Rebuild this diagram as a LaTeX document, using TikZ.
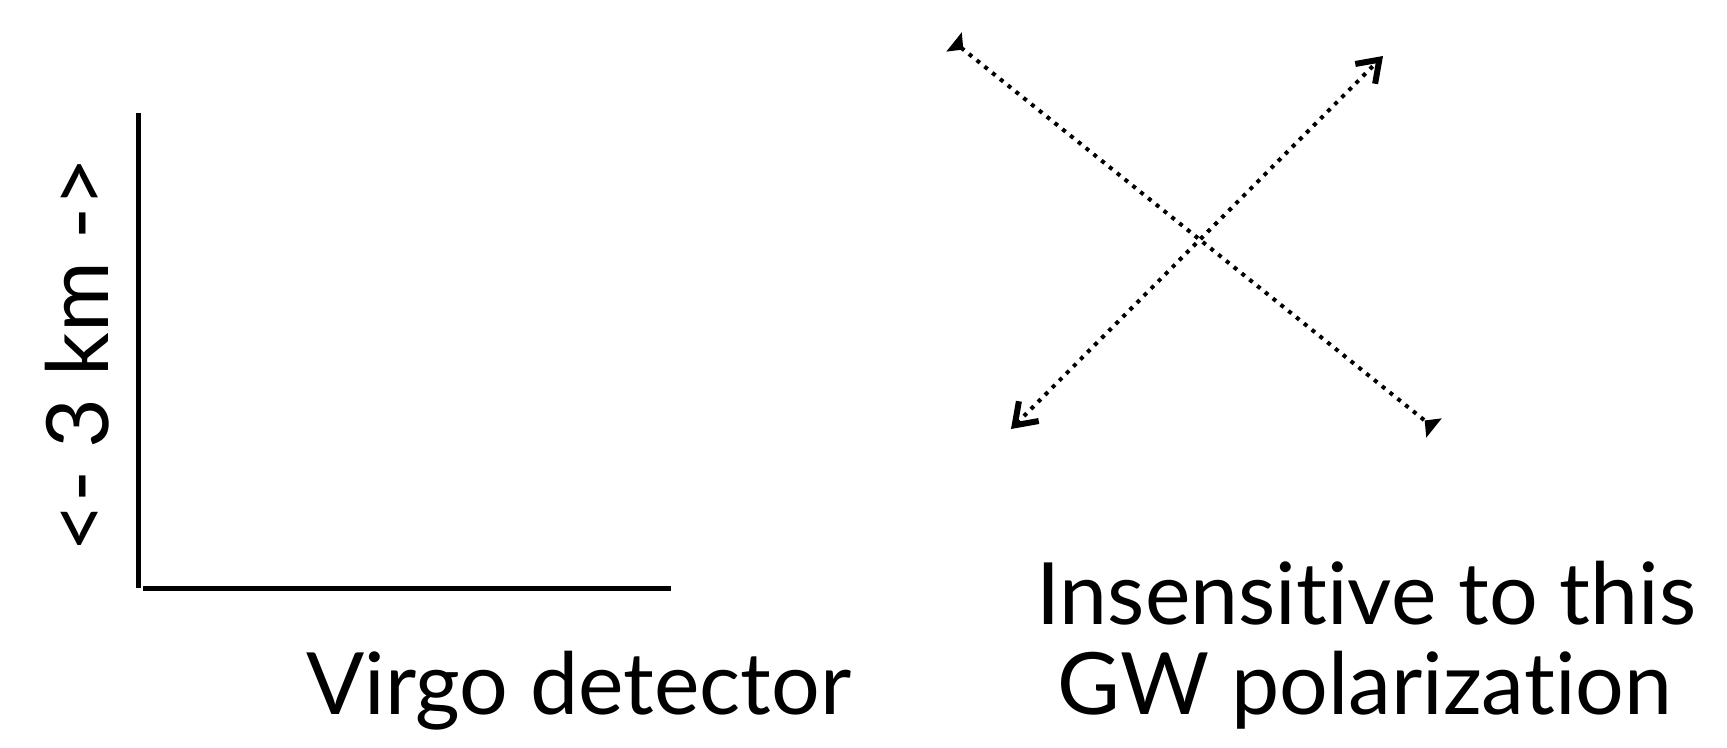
\documentclass[tikz,border=0pt]{standalone}
\usepackage{fontspec}
\setmainfont{Lato}[Ligatures={NoCommon}]
\usetikzlibrary{arrows.meta}
\begin{document}
\begin{tikzpicture}[x=0.5pt,y=-0.5pt,
  arm/.style={line width=2.5pt},
  pol/.style={line width=2pt, dash pattern=on 2pt off 3pt},
  lbl/.style={inner sep=0pt, font=\fontsize{43}{50}\selectfont},
  triend/.style={{Triangle[reversed,length=6pt,width=12pt]}-{Triangle[reversed,length=6pt,width=12pt]}},
  barbend/.style={{Straight Barb[length=10pt,width=14pt,line width=3pt]}-{Straight Barb[length=10pt,width=14pt,line width=3pt]}}
]
\useasboundingbox (0,0) rectangle (1727,748);
% detector arms
\coordinate (armtop) at (138,113);
\coordinate (corner) at (138,588);
\coordinate (cornerh) at (143,588);
\coordinate (armend) at (671,588);
\draw[arm] (armtop) -- (corner);
\draw[arm] (cornerh) -- (armend);
% labels
\node[lbl, rotate=90, anchor=center] (km) at (77,355) {<- 3 km ->};
\node[lbl, anchor=base west] (virgo) at (306,714) {Virgo detector};
\node[lbl, anchor=base west] (ins) at (1036,624) {Insensitive to this};
\node[lbl, anchor=base west] (gw) at (1057,714) {GW polarization};
% polarization arrows
\coordinate (a1) at (954,42);
\coordinate (a2) at (1434,428);
\coordinate (b1) at (1011,429);
\coordinate (b2) at (1383,56);
\draw[pol, triend] (a1) -- (a2);
\draw[pol, barbend] (b1) -- (b2);
\end{tikzpicture}
\end{document}
